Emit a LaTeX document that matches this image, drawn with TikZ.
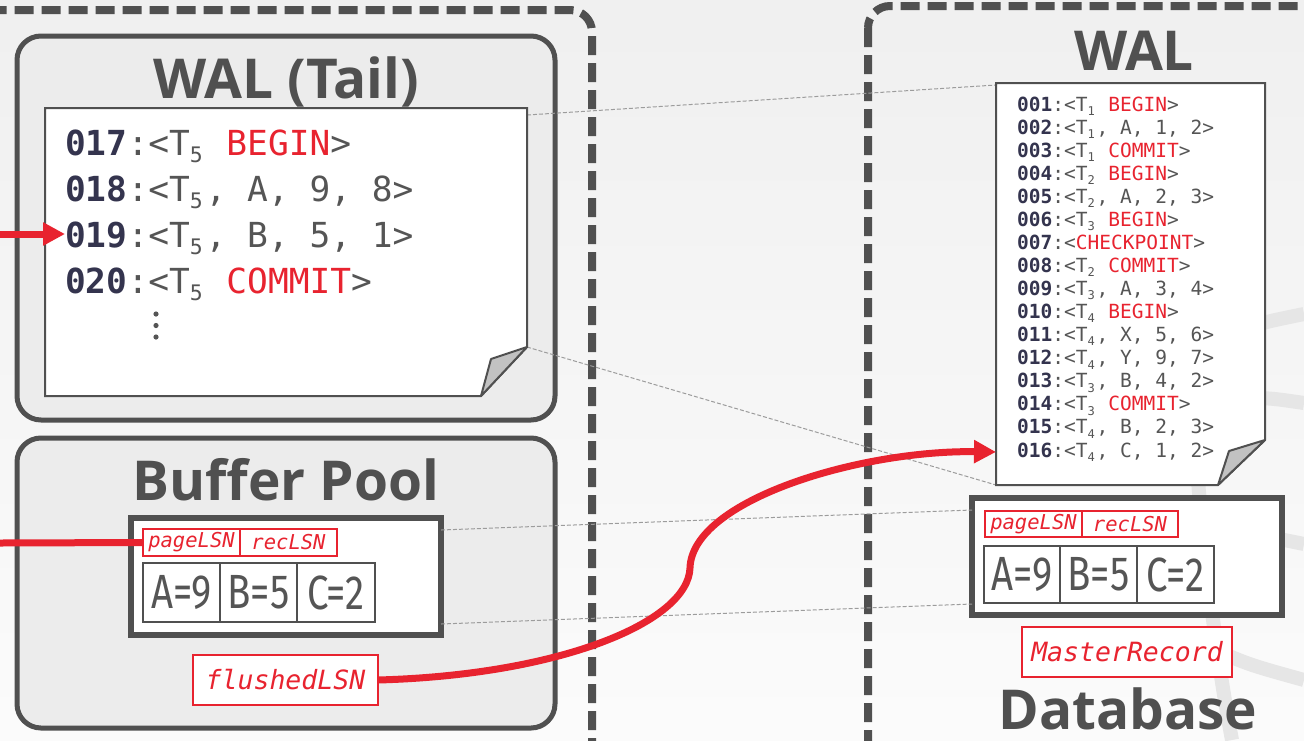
\documentclass[tikz,border=0pt]{standalone}
\usepackage{graphicx}
\usepackage{fontspec}
\setmainfont{Open Sans}
\setmonofont{DejaVu Sans Mono}
\newfontfamily\cellfont[FakeStretch=0.8]{Fira Sans}
\usetikzlibrary{arrows.meta,positioning,calc}

\definecolor{walred}{HTML}{E8232F}
\definecolor{walnum}{HTML}{34344E}
\definecolor{waltext}{HTML}{555555}
\definecolor{walframe}{HTML}{505050}
\definecolor{walbox}{HTML}{ECECEC}
\definecolor{walfold}{HTML}{C2C2C2}
\definecolor{walguide}{HTML}{9C9C9C}
\definecolor{walbg}{HTML}{E6E6E6}

\newcommand{\lnum}[1]{\textcolor{walnum}{\bfseries #1}}
\newcommand{\kw}[1]{\textcolor{walred}{#1}}
\newcommand{\tsub}[1]{\makebox[0.46em][l]{\raisebox{-0.22em}{\scalebox{0.62}{#1}}}}

\tikzset{
  wal/zone/.style={draw=walframe, line width=8pt, dash pattern=on 19pt off 8pt, rounded corners=22pt},
  wal/panel/.style={draw=walframe, fill=walbox, line width=5pt, rounded corners=24pt, inner sep=0pt},
  wal/sheet/.style={inner sep=0pt, outer sep=0pt},
  wal/paper/.style={draw=walframe, fill=white, line width=2pt},
  wal/fold/.style={draw=walframe, fill=walfold, line width=2pt, line join=round},
  wal/title/.style={font=\fontsize{55}{58}\selectfont\bfseries, text=walframe, anchor=base, inner sep=0pt},
  wal/tailline/.style={font=\ttfamily\fontsize{34.5}{46}\selectfont, text=waltext, anchor=base west, inner sep=0pt},
  wal/logline/.style={font=\ttfamily\fontsize{19.5}{23}\selectfont, text=waltext, anchor=base west, inner sep=0pt},
  wal/page/.style={draw=walframe, fill=white, line width=6pt, outer sep=0pt},
  wal/cell/.style={draw=walframe, line width=2.5pt, outer sep=0pt, inner sep=0pt, text=waltext,
    font=\cellfont\fontsize{48}{50}\selectfont},
  wal/lsn/.style={draw=walred, fill=white, line width=2.5pt, outer sep=0pt, inner sep=0pt, text=walred,
    font=\ttfamily\itshape\fontsize{20.5}{22}\selectfont},
  wal/lsnbig/.style={wal/lsn, font=\ttfamily\itshape\fontsize{26.5}{28}\selectfont},
  wal/guide/.style={draw=walguide, line width=1pt, dash pattern=on 4pt off 2pt},
  wal/line/.style={draw=walred, line width=7pt},
  wal/flow/.style={wal/line, -{Triangle[length=22pt,width=22pt]}},
  wal/deco/.style={draw=walbg, line width=14pt}
}

\begin{document}
\begin{tikzpicture}[x=1pt, y=-1pt]
  \useasboundingbox (0,0) rectangle (1304,740);
  \shade[top color=black!6, bottom color=black!1.5] (0,0) rectangle (1304,740);

  % faint background rings
  \draw[wal/deco] (1197,470) .. controls (1205,560) and (1215,650) .. (1232,740);
  \draw[wal/deco] (1240,330) .. controls (1265,322) .. (1304,314);
  \draw[wal/deco] (1240,398) .. controls (1270,398) .. (1304,403);
  \draw[wal/deco] (1240,535) .. controls (1270,537) .. (1304,544);
  \draw[wal/deco] (1215,650) .. controls (1250,665) .. (1304,680);

  % memory and disk zones
  \draw[wal/zone] (-40,10) rectangle (592,790);
  \draw[wal/zone] (868,6) rectangle (1350,790);

  \node[wal/panel, minimum width=538pt, minimum height=384pt] (tailpanel) at (286,228) {};
  \node[wal/panel, minimum width=538pt, minimum height=290pt] (bufpanel) at (286,583) {};

  \node[wal/title] (tailtitle) at (286,98) {WAL (Tail)};
  \node[wal/title] (buftitle) at (286,500) {Buffer Pool};
  \node[wal/title] (waltitle) at (1134,70) {WAL};
  \node[wal/title] (dbtitle) at (1128,729) {Database};

  % log sheets
  \node[wal/sheet, minimum width=482pt, minimum height=288pt] (tailpaper) at (286,252) {};
  \node[wal/sheet, minimum width=269pt, minimum height=402pt] (walpaper) at (1130.5,284) {};
  \coordinate (tailcorner) at ($(tailpaper.south east)+(0,-49)$);
  \coordinate (walcorner) at ($(walpaper.south east)+(0,-45)$);

  % pages
  \node[wal/page, minimum width=310pt, minimum height=117pt] (bppage) at (286,576.5) {};
  \node[wal/page, minimum width=310pt, minimum height=117pt] (dbpage) at (1127,556.5) {};

  % projection guides
  \draw[wal/guide] ([yshift=-7pt]tailpaper.north east) -- ([yshift=-2pt]walpaper.north west);
  \draw[wal/guide] (tailcorner) -- (walpaper.south west);
  \draw[wal/guide] ([yshift=-12pt]bppage.north east) -- ([yshift=-12pt]dbpage.north west);
  \draw[wal/guide] ([yshift=11pt]bppage.south east) -- ([yshift=11pt]dbpage.south west);

  \draw[wal/paper] (tailpaper.north west) -- (tailpaper.north east) -- (tailcorner)
    -- ($(tailpaper.south east)+(-46,0)$) -- (tailpaper.south west) -- cycle;
  \draw[wal/fold] (tailcorner) -- ($(tailpaper.south east)+(-36,-37)$) -- ($(tailpaper.south east)+(-46,0)$) -- cycle;
  \draw[wal/paper] (walpaper.north west) -- (walpaper.north east) -- (walcorner)
    -- ($(walpaper.south east)+(-47,0)$) -- (walpaper.south west) -- cycle;
  \draw[wal/fold] (walcorner) -- ($(walpaper.south east)+(-36,-34)$) -- ($(walpaper.south east)+(-47,0)$) -- cycle;

  \foreach \n/\body [count=\i from 0] in {
      {017/<T\tsub{5} \kw{BEGIN}>},
      {018/<T\tsub{5}, A, 9, 8>},
      {019/<T\tsub{5}, B, 5, 1>},
      {020/<T\tsub{5} \kw{COMMIT}>}}
    \node[wal/tailline] (t\n) at (65,155+46*\i) {\lnum{\n}:\body};
  \foreach \k in {0,1,2}
    \fill[waltext] (156,314+11.5*\k) circle (2.6pt);

  \foreach \n/\body [count=\i from 0] in {
      {001/<T\tsub{1} \kw{BEGIN}>},
      {002/<T\tsub{1}, A, 1, 2>},
      {003/<T\tsub{1} \kw{COMMIT}>},
      {004/<T\tsub{2} \kw{BEGIN}>},
      {005/<T\tsub{2}, A, 2, 3>},
      {006/<T\tsub{3} \kw{BEGIN}>},
      {007/<\kw{CHECKPOINT}>},
      {008/<T\tsub{2} \kw{COMMIT}>},
      {009/<T\tsub{3}, A, 3, 4>},
      {010/<T\tsub{4} \kw{BEGIN}>},
      {011/<T\tsub{4}, X, 5, 6>},
      {012/<T\tsub{4}, Y, 9, 7>},
      {013/<T\tsub{3}, B, 4, 2>},
      {014/<T\tsub{3} \kw{COMMIT}>},
      {015/<T\tsub{4}, B, 2, 3>},
      {016/<T\tsub{4}, C, 1, 2>}}
    \node[wal/logline] (w\n) at (1017,111+23.07*\i) {\lnum{\n}:\body};

  % buffer pool page
  \node[wal/lsn, minimum width=97pt, minimum height=27pt, anchor=north west] (bplsn) at (143,529) {pageLSN};
  \node[wal/lsn, minimum width=97pt, minimum height=27pt, right=0pt of bplsn] (bprec) {recLSN};
  \node[wal/cell, minimum width=77pt, minimum height=59pt, anchor=north west] (bpa) at (143,563) {A=9};
  \node[wal/cell, minimum width=77pt, minimum height=59pt, right=0pt of bpa] (bpb) {B=5};
  \node[wal/cell, minimum width=78pt, minimum height=59pt, right=0pt of bpb] (bpc) {C=2};
  \node[wal/lsnbig, minimum width=185pt, minimum height=50pt] (flushed) at (285.5,680) {flushedLSN};

  % database page
  \node[wal/lsn, minimum width=97pt, minimum height=26pt, anchor=north west] (dblsn) at (985,511) {pageLSN};
  \node[wal/lsn, minimum width=96pt, minimum height=26pt, right=0pt of dblsn] (dbrec) {recLSN};
  \node[wal/cell, minimum width=76pt, minimum height=57pt, anchor=north west] (dba) at (984,546) {A=9};
  \node[wal/cell, minimum width=77pt, minimum height=57pt, right=0pt of dba] (dbb) {B=5};
  \node[wal/cell, minimum width=77pt, minimum height=57pt, right=0pt of dbb] (dbc) {C=2};
  \node[wal/lsnbig, minimum width=210pt, minimum height=50pt] (master) at (1127,652) {MasterRecord};

  % pointers
  \coordinate (tailin) at (0,234);
  \coordinate (bpin) at (0,543);
  \draw[wal/flow] (tailin) -- (tailin -| t019.west);
  \draw[wal/line] (bpin) -- (bplsn.west);
  \draw[wal/flow] (flushed.east) .. controls (560,675) and (688,622) .. (690,568)
    .. controls (692,500) and (860,450) .. (walpaper.west |- w016.west);
\end{tikzpicture}
\end{document}
